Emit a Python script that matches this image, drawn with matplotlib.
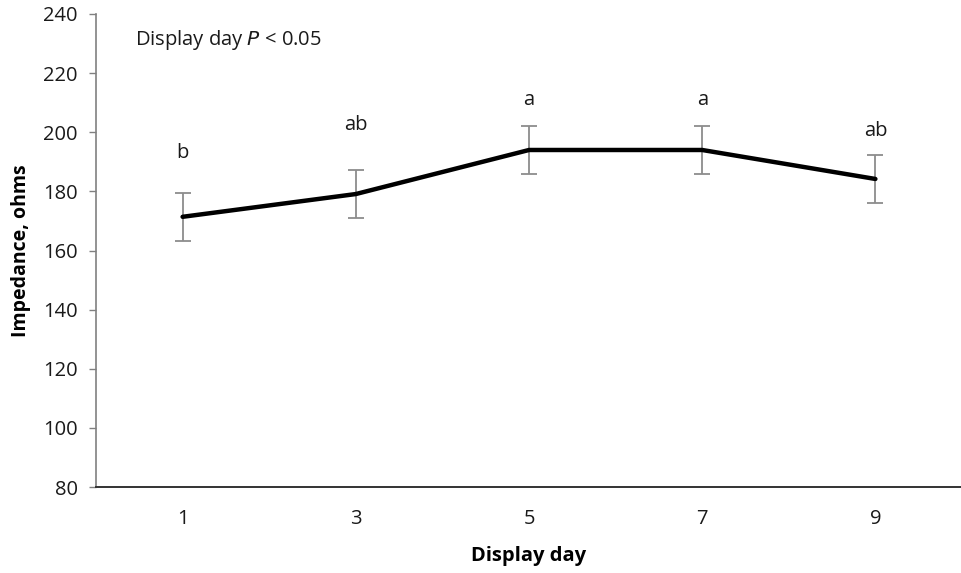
import numpy as np
import matplotlib.pyplot as plt

plt.rcParams['font.family'] = ['Open Sans', 'DejaVu Sans']

days = ["1", "3", "5", "7", "9"]
impedance = [171.4, 179.1, 194.0, 194.0, 184.2]
sem = [8.1, 8.1, 8.2, 8.2, 8.1]
letters = ["b", "ab", "a", "a", "ab"]
letter_y = [193.0, 202.5, 211.0, 211.0, 200.5]

fig = plt.figure(figsize=(9.62, 5.73), dpi=100)
ax = fig.add_axes([0.0998, 0.150, 0.9002, 0.8256])

x = np.arange(len(days))
ax.errorbar(x, impedance, yerr=sem, fmt='none', ecolor='#8c8c8c',
            elinewidth=1.3, capsize=5.5, capthick=1.3, zorder=2)
ax.plot(x, impedance, color='black', linewidth=3.2, solid_capstyle='round', zorder=3)

for xi, lab, ly in zip(x, letters, letter_y):
    ax.text(xi, ly, lab, ha='center', va='center', fontsize=14.5, color='#1a1a1a')

ax.text(0.045, 0.944, "Display day $\\it{P}$ < 0.05", transform=ax.transAxes,
        ha='left', va='center', fontsize=14.5, color='#1a1a1a')

ax.set_xlim(-0.5, 4.5)
ax.set_ylim(80, 240)
ax.set_yticks(np.arange(80, 241, 20))
ax.set_xticks(x)
ax.set_xticklabels(days)
ax.tick_params(axis='y', length=5, width=1, color='#808080', labelsize=14.5,
               labelcolor='#1a1a1a', pad=8)
ax.tick_params(axis='x', length=0, labelsize=14.5, labelcolor='#1a1a1a', pad=16)

ax.spines['top'].set_visible(False)
ax.spines['right'].set_visible(False)
ax.spines['left'].set_color('#808080')
ax.spines['left'].set_linewidth(1.2)
ax.spines['bottom'].set_color('#333333')
ax.spines['bottom'].set_linewidth(1.4)

ax.set_xlabel("Display day", fontsize=14.5, fontweight='bold', labelpad=12)
ax.set_ylabel("Impedance, ohms", fontsize=14, fontweight='bold', labelpad=9)

fig.savefig("out.png", dpi=100)
